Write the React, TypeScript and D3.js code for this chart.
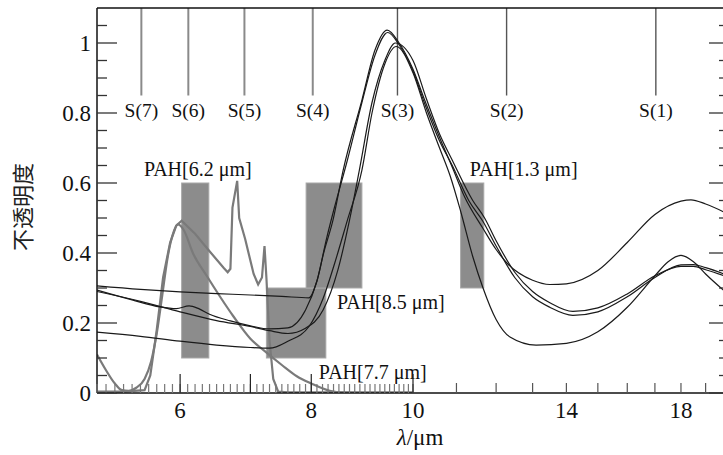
import React from "react";
import * as d3 from "d3";

type P = [number, number];

// ---- data ----
const xTickLabels = [6, 8, 10, 14, 18];
const yTickLabels = [0, 0.2, 0.4, 0.6, 0.8, 1];
const h2Lines: { name: string; wl: number; dark: boolean }[] = [
  { name: "S(7)", wl: 5.511, dark: false },
  { name: "S(6)", wl: 6.109, dark: false },
  { name: "S(5)", wl: 6.909, dark: false },
  { name: "S(4)", wl: 8.026, dark: false },
  { name: "S(3)", wl: 9.665, dark: true },
  { name: "S(2)", wl: 12.279, dark: true },
  { name: "S(1)", wl: 17.035, dark: true },
];
const pahBoxes = [
  { x0: 6.02, x1: 6.39, y0: 0.1, y1: 0.6 },
  { x0: 7.25, x1: 8.26, y0: 0.1, y1: 0.3 },
  { x0: 7.91, x1: 8.94, y0: 0.3, y1: 0.6 },
  { x0: 11.1, x1: 11.68, y0: 0.3, y1: 0.6 },
];
const pahLabels = [
  { text: "PAH[6.2 μm]", x: 6.05, y: 0.62, dx: -40 },
  { text: "PAH[8.5 μm]", x: 8.94, y: 0.24, dx: -25 },
  { text: "PAH[7.7 μm]", x: 8.26, y: 0.04, dx: -7 },
  { text: "PAH[1.3 μm]", x: 11.68, y: 0.62, dx: -14 },
];

const silicate1: P[] = [[5.0,0.306],[5.5,0.296],[6.0,0.289],[6.5,0.284],[7.0,0.28],[7.5,0.276],[7.96,0.272],[8.1,0.32],[8.22,0.4],[8.39,0.494],[8.58,0.637],[8.94,0.837],[9.2,0.98],[9.45,1.037],[9.7,1.0],[10.0,0.925],[10.25,0.84],[10.6,0.73],[10.9,0.645],[11.2,0.56],[11.66,0.47],[12.0,0.41],[12.3,0.37],[13.0,0.322],[13.5,0.31],[14.0,0.312],[15.0,0.35],[16.0,0.43],[17.0,0.51],[18.0,0.548],[18.4,0.552],[19.0,0.54],[20.0,0.51]];
const silicate2: P[] = [[5.0,0.294],[5.4,0.266],[5.74,0.246],[5.95,0.241],[6.12,0.249],[6.25,0.241],[6.4,0.225],[6.7,0.206],[7.0,0.192],[7.3,0.183],[7.6,0.186],[7.9,0.237],[8.1,0.32],[8.28,0.446],[8.4,0.52],[8.65,0.66],[8.94,0.83],[9.2,0.965],[9.46,1.03],[9.7,0.995],[10.0,0.92],[10.25,0.83],[10.6,0.72],[10.9,0.65],[11.3,0.55],[11.66,0.49],[12.0,0.42],[12.5,0.33],[13.0,0.275],[13.5,0.245],[14.2,0.222],[15.0,0.232],[16.0,0.275],[17.0,0.33],[18.0,0.366],[18.5,0.367],[19.0,0.358],[20.0,0.335]];
const silicate3: P[] = [[5.0,0.29],[5.5,0.262],[6.0,0.232],[6.5,0.207],[7.0,0.19],[7.3,0.178],[7.6,0.17],[7.9,0.185],[8.21,0.237],[8.48,0.351],[8.7,0.494],[8.89,0.637],[9.14,0.83],[9.4,0.95],[9.62,1.0],[10.0,0.95],[10.3,0.84],[10.6,0.74],[10.9,0.665],[11.4,0.55],[11.7,0.5],[12.0,0.435],[12.5,0.345],[13.0,0.29],[13.5,0.258],[14.2,0.233],[15.0,0.243],[16.0,0.283],[17.0,0.335],[18.0,0.362],[18.5,0.362],[19.0,0.352],[20.0,0.33]];
const silicate4: P[] = [[5.0,0.174],[5.5,0.162],[6.0,0.148],[6.5,0.137],[7.0,0.13],[7.3,0.128],[7.6,0.148],[7.96,0.19],[8.21,0.27],[8.4,0.36],[8.66,0.494],[8.94,0.637],[9.14,0.8],[9.4,0.94],[9.64,0.99],[10.0,0.915],[10.3,0.8],[10.6,0.7],[10.85,0.62],[11.1,0.52],[11.4,0.39],[11.66,0.3],[12.0,0.21],[12.37,0.16],[13.1,0.137],[14.0,0.142],[15.0,0.175],[16.0,0.245],[17.0,0.335],[17.5,0.375],[18.0,0.393],[18.5,0.375],[19.0,0.34],[20.0,0.28]];
const labSpectrum: P[] = [[5.0,0.004],[5.3,0.004],[5.55,0.008],[5.62,0.05],[5.7,0.18],[5.78,0.33],[5.87,0.43],[5.95,0.478],[6.02,0.492],[6.2,0.455],[6.4,0.405],[6.6,0.358],[6.66,0.345],[6.7,0.355],[6.73,0.53],[6.8,0.606],[6.83,0.5],[6.92,0.44],[7.05,0.34],[7.12,0.31],[7.18,0.33],[7.22,0.42],[7.25,0.33],[7.3,0.15],[7.36,0.04],[7.44,0.004],[7.6,0.002],[10,0.002]];
const pahProfile: P[] = [[5.0,0.11],[5.1,0.065],[5.2,0.027],[5.28,0.008],[5.36,0.006],[5.45,0.015],[5.55,0.04],[5.63,0.09],[5.7,0.17],[5.77,0.28],[5.84,0.39],[5.9,0.45],[5.97,0.482],[6.05,0.465],[6.17,0.4],[6.36,0.335],[6.55,0.275],[6.74,0.22],[7.0,0.155],[7.2,0.123],[7.5,0.08],[7.75,0.048],[8.0,0.027],[8.33,0.006],[8.6,0.001],[9.0,0.0]];

const W = 723, H = 455;
const L = 97, R = 729, T = 8, B = 393;
const FONT = "'Liberation Serif', 'Times New Roman', serif";

export default function App() {
  const x = d3.scaleLog().domain([5, 20]).range([L, R]);
  const y = d3.scaleLinear().domain([0, 1.1]).range([B, T]);
  const smooth = d3.line<P>().x(d => x(d[0])).y(d => y(d[1])).curve(d3.curveMonotoneX);
  const sharp = d3.line<P>().x(d => x(d[0])).y(d => y(d[1]));

  const xMinor: number[] = [];
  for (let i = 50; i <= 100; i++) xMinor.push(i / 10);
  const xMajorLong = [6, 7, 8, 10];
  const xBeyond = d3.range(11, 20);
  const yMinor = d3.range(0, 22).map(i => i * 0.05).filter(v => Math.abs(v * 5 - Math.round(v * 5)) > 1e-6);
  const yMajor = yTickLabels;

  return (
    <svg width={W} height={H} style={{ position: "absolute", left: 0, top: 0, background: "#fff" }}>
      <defs>
        <clipPath id="plot"><rect x={L} y={T} width={R - L} height={B - T} /></clipPath>
      </defs>
      {pahBoxes.map((b, i) => (
        <rect key={i} x={x(b.x0)} y={y(b.y1)} width={x(b.x1) - x(b.x0)} height={y(b.y0) - y(b.y1)}
          fill="#8c8c8c" stroke="#a8a8a8" strokeWidth={1} />
      ))}
      {h2Lines.map((s, i) => (
        <g key={i}>
          <line x1={x(s.wl)} x2={x(s.wl)} y1={T} y2={y(0.85)} stroke={s.dark ? "#555" : "#8a8a8a"} strokeWidth={s.dark ? 1.4 : 2} />
          <text x={x(s.wl)} y={117} textAnchor="middle" fontFamily={FONT} fontSize={19.5} fill="#111">{s.name}</text>
        </g>
      ))}
      <g clipPath="url(#plot)" fill="none">
        <path d={sharp(labSpectrum) || ""} stroke="#7a7a7a" strokeWidth={2.2} />
        <path d={smooth(pahProfile) || ""} stroke="#7a7a7a" strokeWidth={2.2} />
        {[silicate1, silicate2, silicate3, silicate4].map((s, i) => (
          <path key={i} d={smooth(s) || ""} stroke="#1a1a1a" strokeWidth={1.2} />
        ))}
      </g>
      {pahLabels.map((p, i) => (
        <text key={i} x={x(p.x) + p.dx} y={y(p.y)} fontFamily={FONT} fontSize={20} fill="#111">{p.text}</text>
      ))}
      <g stroke="#111" strokeWidth={1.5} fill="none">
        <line x1={L} x2={R} y1={B} y2={B} />
        <line x1={L} x2={R} y1={T} y2={T} />
        <line x1={L} x2={L} y1={T} y2={B} />
        <line x1={R} x2={R} y1={T} y2={B} />
      </g>
      <g strokeWidth={1.2}>
        {xMinor.map((v, i) => (
          <line key={"m" + i} x1={x(v)} x2={x(v)} y1={B} y2={B - 9} stroke="#777" />
        ))}
        {xMajorLong.map((v, i) => (
          <line key={"M" + i} x1={x(v)} x2={x(v)} y1={B} y2={B - 19} stroke="#222" />
        ))}
        {xBeyond.map((v, i) => (
          <line key={"b" + i} x1={x(v)} x2={x(v)} y1={B} y2={B - 10} stroke="#555" />
        ))}
      </g>
      {xTickLabels.map((v, i) => (
        <text key={i} x={x(v)} y={418} textAnchor="middle" fontFamily={FONT} fontSize={23} fill="#111">{v}</text>
      ))}
      <g strokeWidth={1.3} stroke="#333">
        {yMajor.map((v, i) => (
          <g key={"M" + i}>
            <line x1={L} x2={L + 20} y1={y(v)} y2={y(v)} />
            <line x1={R} x2={R - 20} y1={y(v)} y2={y(v)} />
          </g>
        ))}
        {yMinor.map((v, i) => (
          <g key={"m" + i}>
            <line x1={L} x2={L + 10} y1={y(v)} y2={y(v)} />
            <line x1={R} x2={R - 10} y1={y(v)} y2={y(v)} />
          </g>
        ))}
      </g>
      {yTickLabels.map((v, i) => (
        <text key={i} x={91} y={y(v)} dy="0.35em" textAnchor="end" fontFamily={FONT} fontSize={23} fill="#111">{v}</text>
      ))}
      <text transform={`translate(31,207) rotate(-90)`} textAnchor="middle" fontFamily="'Noto Sans CJK SC', sans-serif" fontSize={22} fill="#222">不透明度</text>
      <text x={420} y={445} textAnchor="middle" fontFamily={FONT} fontSize={23} fill="#111">
        <tspan fontStyle="italic">λ</tspan>/μm
      </text>
    </svg>
  );
}
